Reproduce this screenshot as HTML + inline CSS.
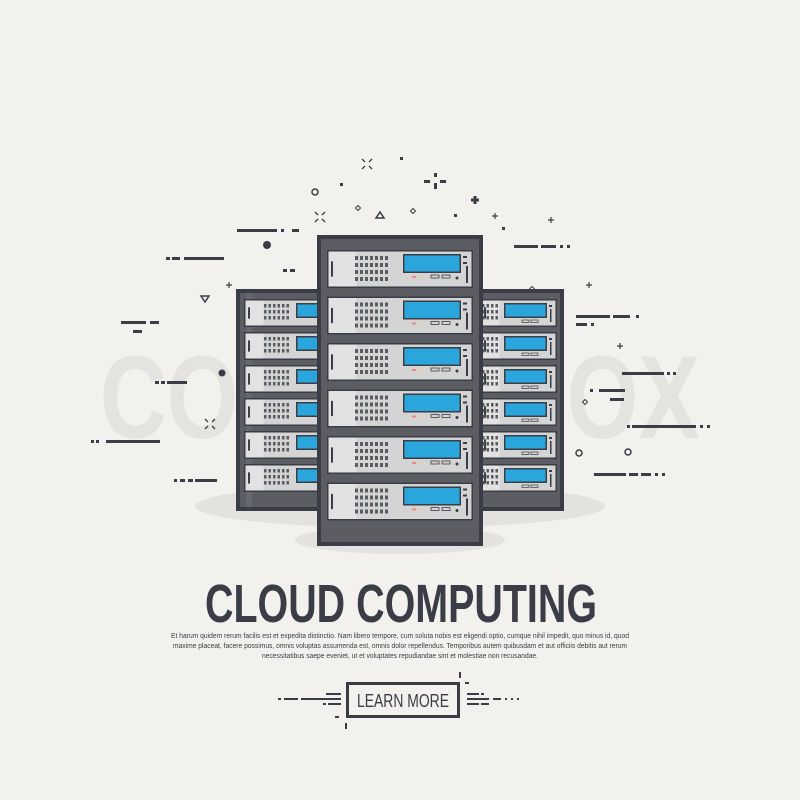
<!DOCTYPE html>
<html><head><meta charset="utf-8"><style>
html,body{margin:0;padding:0;background:#f3f1ee;}
svg{display:block}
</style></head><body>
<svg id="s" width="800" height="800" viewBox="0 0 800 800" xmlns="http://www.w3.org/2000/svg">
<rect width="800" height="800" fill="#f3f1ee"/>
<text x="400" y="438" text-anchor="middle" font-family="Liberation Sans, sans-serif" font-weight="bold" font-size="118" fill="#e5e3e0" textLength="600" lengthAdjust="spacingAndGlyphs">COLOURBOX</text>
<ellipse cx="400" cy="506" rx="205" ry="22" fill="#e4e2df"/>
<ellipse cx="400" cy="540" rx="105" ry="14" fill="#e4e2df"/>
<g id="deco" fill="#3a3d45"></g>
<g id="racks"></g>
<text x="401" y="622" text-anchor="middle" font-family="Liberation Sans Narrow, Liberation Sans, sans-serif" font-weight="bold" font-size="54" fill="#3a3d45" textLength="392" lengthAdjust="spacingAndGlyphs">CLOUD COMPUTING</text>
<g font-family="Liberation Sans Narrow, Liberation Sans, sans-serif" font-size="7.6" fill="#3a3d45" text-anchor="middle">
<text x="400" y="638" textLength="458" lengthAdjust="spacingAndGlyphs">Et harum quidem rerum facilis est et expedita distinctio. Nam libero tempore, cum soluta nobis est eligendi optio, cumque nihil impedit, quo minus id, quod</text>
<text x="400" y="648" textLength="454" lengthAdjust="spacingAndGlyphs">maxime placeat, facere possimus, omnis voluptas assumenda est, omnis dolor repellendus. Temporibus autem quibusdam et aut officiis debitis aut rerum</text>
<text x="400" y="658" textLength="276" lengthAdjust="spacingAndGlyphs">necessitatibus saepe eveniet, ut et voluptates repudiandae sint et molestiae non recusandae.</text>
</g>
<rect x="347.5" y="683.5" width="111" height="33" fill="none" stroke="#3a3d45" stroke-width="3"/>
<text x="403" y="707" text-anchor="middle" font-family="Liberation Sans Narrow, Liberation Sans, sans-serif" font-size="18" fill="#3a3d45" textLength="92" lengthAdjust="spacingAndGlyphs">LEARN MORE</text>
<g fill="#3a3d45">
<rect x="278" y="698" width="3" height="2"/><rect x="284" y="698" width="14" height="2"/><rect x="301" y="698" width="21" height="2"/>
<rect x="326" y="693" width="15" height="2"/><rect x="320" y="698" width="21" height="2"/><rect x="323" y="703" width="3" height="2"/><rect x="328" y="703" width="13" height="2"/>
<rect x="335" y="716" width="4" height="2"/><rect x="345" y="723" width="2" height="6"/>
<rect x="459" y="672" width="2" height="6"/><rect x="465" y="682" width="4" height="2"/>
<rect x="467" y="693" width="12" height="2"/><rect x="481" y="693" width="3" height="2"/>
<rect x="467" y="698" width="22" height="2"/><rect x="493" y="698" width="8" height="2"/><rect x="505" y="698" width="2" height="2"/><rect x="511" y="698" width="2" height="2"/><rect x="517" y="698" width="2" height="2"/>
<rect x="467" y="703" width="12" height="2"/><rect x="481" y="703" width="8" height="2"/>
</g>
</svg>
<script>
const NS="http://www.w3.org/2000/svg";
function el(p,t,a){const e=document.createElementNS(NS,t);for(const k in a)e.setAttribute(k,a[k]);p.appendChild(e);return e;}
const R=document.getElementById('racks'),D=document.getElementById('deco');
const dark="#3a3d45";
const rects=[[237,229,40,3],[281,229,3,3],[292,229,7,3],[166,257,4,3],[172,257,8,3],[184,257,40,3],[283,269,4,3],[290,269,5,3],
[121,321,25,3],[150,321,9,3],[133,330,9,3],[155,381,4,3],[161,381,4,3],[167,381,20,3],[91,440,3,3],[96,440,3,3],[106,440,54,3],
[174,479,3,3],[180,479,5,3],[188,479,5,3],[195,479,22,3],[514,245,24,3],[541,245,15,3],[560,245,3,3],[567,245,3,3],
[576,315,34,3],[613,315,17,3],[636,315,3,3],[576,323,11,3],[591,323,3,3],[622,372,42,3],[667,372,3,3],[673,372,3,3],
[590,389,3,3],[599,389,26,3],[610,398,14,3],[627,425,3,3],[632,425,64,3],[700,425,3,3],[707,425,3,3],
[594,473,32,3],[629,473,9,3],[641,473,10,3],[655,473,3,3],[662,473,3,3],[340,183,3,3],[400,157,3,3],[454,214,3,3],[502,227,3,3],
[434,173,3,4],[434,183,3,6],[424,180,6,3],[440,180,6,3]];
rects.forEach(r=>el(D,'rect',{x:r[0],y:r[1],width:r[2],height:r[3]}));
[[267,245,4],[222,373,3.5]].forEach(c=>el(D,'circle',{cx:c[0],cy:c[1],r:c[2]}));
[[315,192],[628,452],[579,453]].forEach(c=>el(D,'circle',{cx:c[0],cy:c[1],r:3,fill:"none",stroke:dark,"stroke-width":1.5}));
el(D,'path',{d:"M475 196v8M471 200h8",stroke:dark,"stroke-width":3});
[[551,220],[589,285],[620,346],[495,216],[229,285],[493,297]].forEach(p=>el(D,'path',{d:`M${p[0]} ${p[1]-3}v6M${p[0]-3} ${p[1]}h6`,stroke:dark,"stroke-width":1.2}));
[[367,164],[320,217],[210,424]].forEach(p=>el(D,'path',{d:`M${p[0]-5} ${p[1]-5}l3 3M${p[0]+5} ${p[1]-5}l-3 3M${p[0]-5} ${p[1]+5}l3 -3M${p[0]+5} ${p[1]+5}l-3 -3`,stroke:dark,"stroke-width":1.3}));
el(D,'path',{d:"M380 212l-4 6h8z",fill:"none",stroke:dark,"stroke-width":1.5});
el(D,'path',{d:"M205 296l-4 6h8z",fill:"none",stroke:dark,"stroke-width":1.5,transform:"rotate(180 205 299)"});
[[358,208],[532,289],[585,402],[413,211]].forEach(p=>el(D,'path',{d:`M${p[0]} ${p[1]-2.5}l2.5 2.5l-2.5 2.5l-2.5 -2.5z`,fill:"none",stroke:dark,"stroke-width":1}));
function frame(x,y,w,h){el(R,'rect',{x,y,width:w,height:h,fill:dark});el(R,'rect',{x:x+4,y:y+4,width:w-8,height:h-8,fill:"#5b5d62"});
 el(R,'rect',{x:x+10,y:y+4,width:6,height:h-8,fill:"#666870"});}
function grid(x,y,cols,rows,dx,dy,w,h){for(let i=0;i<cols;i++)for(let j=0;j<rows;j++)el(R,'rect',{x:x+i*dx,y:y+j*dy,width:w,height:h,fill:"#5a5c62"});}
function unit(x,y,w,h,big,side){
 el(R,'rect',{x,y,width:w,height:h,fill:dark});
 el(R,'rect',{x:x+1.5,y:y+1.5,width:w-3,height:h-3,fill:"#d4d4d4"});
 el(R,'rect',{x:x+1.5,y:y+1.5,width:big?28:18,height:h-3,fill:"#e2e2e2"});
 el(R,'rect',{x:x+4,y:y+h*0.3,width:2,height:h*0.4,fill:dark});
 if(big){
  grid(x+28,y+6,7,4,5,7,3,4);
  el(R,'rect',{x:x+76,y:y+4,width:58,height:19,fill:dark});
  el(R,'rect',{x:x+77.5,y:y+5.5,width:55,height:16,fill:"#2aa6dc"});
  el(R,'rect',{x:x+136,y:y+6,width:4,height:2,fill:dark});el(R,'rect',{x:x+136,y:y+12,width:4,height:2,fill:dark});
  el(R,'rect',{x:x+139,y:y+16,width:2,height:17,fill:dark});
  el(R,'rect',{x:x+85,y:y+26,width:4,height:2,fill:"#e88"});el(R,'rect',{x:x+92,y:y+26,width:4,height:2,fill:"#ec9"});
  el(R,'rect',{x:x+104,y:y+25,width:8,height:3,fill:"none",stroke:dark,"stroke-width":0.8});
  el(R,'rect',{x:x+115,y:y+25,width:8,height:3,fill:"none",stroke:dark,"stroke-width":0.8});
  el(R,'circle',{cx:x+130,cy:y+28,r:1.5,fill:dark});
 } else if(side==='L'){
  grid(x+20,y+5,6,3,4.5,6,2.5,3.5);
  el(R,'rect',{x:x+52,y:y+4,width:40,height:15,fill:dark});
  el(R,'rect',{x:x+53.5,y:y+5.5,width:37,height:12,fill:"#2aa6dc"});
 } else {
  grid(x+2,y+5,4,3,4.5,6,2.5,3.5);
  el(R,'rect',{x:x+24,y:y+4,width:43,height:15,fill:dark});
  el(R,'rect',{x:x+25.5,y:y+5.5,width:40,height:12,fill:"#2aa6dc"});
  el(R,'rect',{x:x+42,y:y+21,width:7,height:2.5,fill:"none",stroke:dark,"stroke-width":0.7});
  el(R,'rect',{x:x+51,y:y+21,width:7,height:2.5,fill:"none",stroke:dark,"stroke-width":0.7});
  el(R,'rect',{x:x+69,y:y+6,width:3,height:2,fill:dark});
  el(R,'rect',{x:x+70,y:y+10,width:1.5,height:13,fill:dark});
 }
}
frame(236,289,100,222);frame(464,289,100,222);
for(let i=0;i<6;i++){const y=299+i*33;unit(244,y,90,28,false,'L');unit(480,y,77,28,false,'R');}
frame(317,235,166,311);
el(R,'rect',{x:321,y:239,width:158,height:303,fill:"#5b5d62"});
for(let i=0;i<6;i++){unit(327,250+i*46.5,146,38,true);}
</script>
</body></html>
